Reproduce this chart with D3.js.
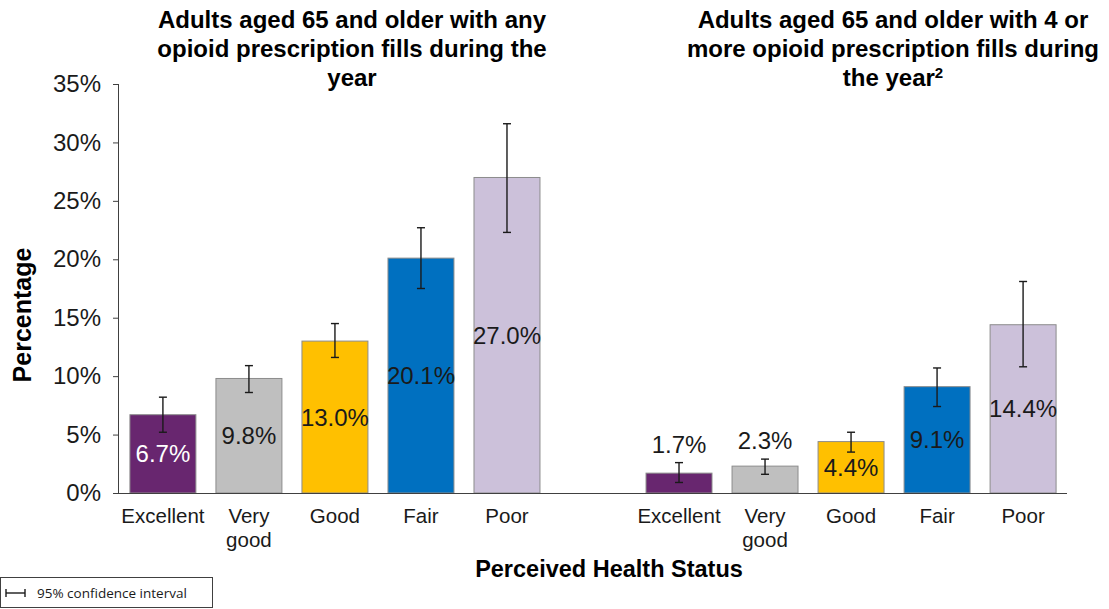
<!DOCTYPE html>
<html>
<head>
<meta charset="utf-8">
<script src="https://cdn.jsdelivr.net/npm/d3@7"></script>
<style>
  html, body { margin: 0; padding: 0; background: #fff; }
  svg { display: block; font-family: "Liberation Sans", Arial, sans-serif; }
</style>
</head>
<body>
<svg id="chart" width="1109" height="609"></svg>
<script>
// Perceived health status categories
const categories = ["Excellent", "Very good", "Good", "Fair", "Poor"];
const categoryColors = ["#68266f", "#bfbfbf", "#ffc000", "#0070c0", "#ccc1da"];

// Panel A: any opioid prescription fill (%)
const anyFillValues = [6.7, 9.8, 13.0, 20.1, 27.0];
const anyFillLower  = [5.2, 8.6, 11.6, 17.5, 22.3];
const anyFillUpper  = [8.2, 10.9, 14.5, 22.7, 31.6];

// Panel B: 4 or more opioid prescription fills (%)
const fourPlusValues = [1.7, 2.3, 4.4, 9.1, 14.4];
const fourPlusLower  = [0.9, 1.6, 3.5, 7.4, 10.8];
const fourPlusUpper  = [2.6, 2.9, 5.2, 10.7, 18.1];

const yTicks = [0, 5, 10, 15, 20, 25, 30, 35];

const panelTitles = [
  ["Adults aged 65 and older with any", "opioid prescription fills during the", "year"],
  ["Adults aged 65 and older with 4 or", "more opioid prescription fills during", "the year"]
];

const panels = [
  { key: "any", values: anyFillValues, lower: anyFillLower, upper: anyFillUpper },
  { key: "four", values: fourPlusValues, lower: fourPlusLower, upper: fourPlusUpper }
];

// Flatten to one row per bar; a blank slot separates the two panels
const slots = [];
panels.forEach((p, pi) => {
  categories.forEach((c, ci) => {
    slots.push({ slot: pi * 6 + ci, panel: pi, category: c, color: categoryColors[ci],
                 value: p.values[ci], lo: p.lower[ci], hi: p.upper[ci] });
  });
});
const slotIds = d3.range(11);

const svg = d3.select("#chart");
const plotLeft = 119, plotRight = 1067, plotTop = 84, plotBottom = 493;

const x = d3.scaleBand().domain(slotIds).range([plotLeft, plotRight])
  .paddingInner(0.233).paddingOuter(0.127);
const y = d3.scaleLinear().domain([0, 35]).range([plotBottom, plotTop]);

// Bars
svg.append("g").selectAll("rect").data(slots).join("rect")
  .attr("x", d => x(d.slot))
  .attr("y", d => y(d.value))
  .attr("width", x.bandwidth())
  .attr("height", d => y(0) - y(d.value))
  .attr("fill", d => d.color)
  .attr("stroke", "#8c8c8c")
  .attr("stroke-width", 1);

// Confidence interval whiskers
const ci = svg.append("g").attr("stroke", "#1a1a1a").attr("stroke-width", 1.4);
slots.forEach(d => {
  const cx = x(d.slot) + x.bandwidth() / 2;
  ci.append("line").attr("x1", cx).attr("x2", cx).attr("y1", y(d.lo)).attr("y2", y(d.hi));
  ci.append("line").attr("x1", cx - 4).attr("x2", cx + 4).attr("y1", y(d.lo)).attr("y2", y(d.lo));
  ci.append("line").attr("x1", cx - 4).attr("x2", cx + 4).attr("y1", y(d.hi)).attr("y2", y(d.hi));
});

// Value labels: centred in the bar, or above the whisker for very short bars
const isOutside = d => d.value < 3;
svg.append("g").selectAll("text").data(slots).join("text")
  .attr("x", d => x(d.slot) + x.bandwidth() / 2)
  .attr("y", d => isOutside(d) ? y(d.hi) - 10 : (y(d.value) + y(0)) / 2 + 8.5)
  .attr("text-anchor", "middle")
  .attr("font-size", 24)
  .attr("fill", d => (!isOutside(d) && d.color === "#68266f") ? "#ffffff" : "#1a1a1a")
  .text(d => d.value.toFixed(1) + "%");

// Y axis
const yAxis = svg.append("g").attr("transform", `translate(${plotLeft},0)`)
  .call(d3.axisLeft(y).tickValues(yTicks).tickFormat(d => d + "%").tickSize(6).tickPadding(12));
yAxis.select(".domain").attr("stroke", "#404040").attr("d", `M-0.5,${plotTop}V${plotBottom}`);
yAxis.selectAll(".tick line").attr("stroke", "#404040");
yAxis.selectAll(".tick text").attr("font-size", 24).attr("fill", "#1a1a1a")
  .attr("font-family", "Liberation Sans, Arial, sans-serif");

// Baseline
svg.append("line").attr("x1", plotLeft).attr("x2", plotRight).attr("y1", y(0) + 0.5).attr("y2", y(0) + 0.5)
  .attr("stroke", "#404040").attr("stroke-width", 1.2);

// Category labels (wrapped onto two lines where needed)
const catG = svg.append("g");
slots.forEach(d => {
  const t = catG.append("text")
    .attr("x", x(d.slot) + x.bandwidth() / 2)
    .attr("y", 523)
    .attr("text-anchor", "middle")
    .attr("font-size", 20.5)
    .attr("fill", "#1a1a1a");
  const words = d.category.split(" ");
  words.forEach((w, i) => {
    t.append("tspan").attr("x", x(d.slot) + x.bandwidth() / 2).attr("dy", i === 0 ? 0 : 24).text(w);
  });
});

// Panel titles
const panelCenters = [352, 893];
panelTitles.forEach((lines, pi) => {
  const t = svg.append("text")
    .attr("x", panelCenters[pi]).attr("y", 28)
    .attr("text-anchor", "middle")
    .attr("font-size", 24).attr("font-weight", "bold").attr("fill", "#000");
  lines.forEach((ln, i) => {
    t.append("tspan").attr("x", panelCenters[pi]).attr("dy", i === 0 ? 0 : 29).text(ln);
    if (pi === 1 && i === lines.length - 1) {
      t.append("tspan").attr("font-size", 15).attr("dy", -8).text("2");
    }
  });
});

// Axis titles
svg.append("text")
  .attr("transform", "translate(31,315) rotate(-90)")
  .attr("text-anchor", "middle")
  .attr("font-size", 25).attr("font-weight", "bold").attr("fill", "#000")
  .text("Percentage");

svg.append("text")
  .attr("x", 609).attr("y", 577)
  .attr("text-anchor", "middle")
  .attr("font-size", 23.5).attr("font-weight", "bold").attr("fill", "#000")
  .text("Perceived Health Status");

// Legend
const lg = svg.append("g");
lg.append("rect").attr("x", 0.5).attr("y", 577.5).attr("width", 212).attr("height", 30)
  .attr("fill", "#fff").attr("stroke", "#404040").attr("stroke-width", 1);
lg.append("line").attr("x1", 6).attr("x2", 25).attr("y1", 593).attr("y2", 593).attr("stroke", "#1a1a1a").attr("stroke-width", 1.4);
lg.append("line").attr("x1", 6).attr("x2", 6).attr("y1", 589).attr("y2", 597).attr("stroke", "#1a1a1a").attr("stroke-width", 1.4);
lg.append("line").attr("x1", 25).attr("x2", 25).attr("y1", 589).attr("y2", 597).attr("stroke", "#1a1a1a").attr("stroke-width", 1.4);
lg.append("text").attr("x", 37).attr("y", 598)
  .attr("font-family", "Open Sans, sans-serif").attr("font-size", 13.5).attr("fill", "#1a1a1a")
  .text("95% confidence interval");
</script>
</body>
</html>
